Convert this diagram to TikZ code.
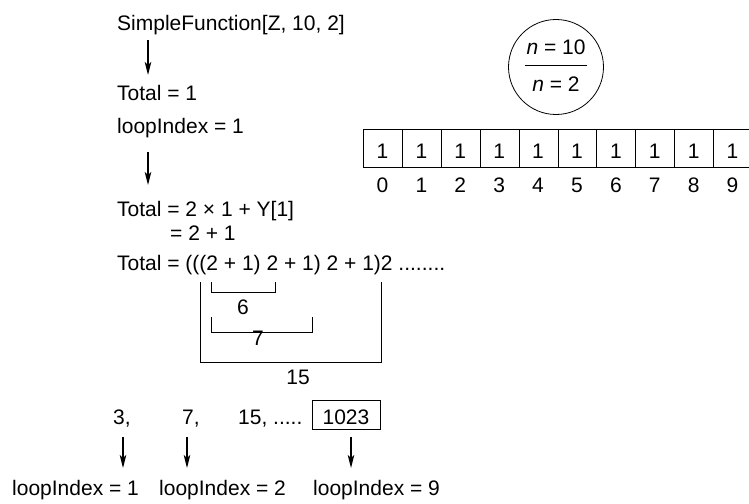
\documentclass[tikz,border=0pt]{standalone}
\usepackage{fontspec}
\setmainfont{Liberation Sans}
\usetikzlibrary{arrows.meta}
\begin{document}
\begin{tikzpicture}[x=1pt,y=-1pt,
  font=\fontsize{21}{25}\selectfont,
  txt/.style={anchor=base west, inner sep=0pt},
  ctxt/.style={anchor=base, inner sep=0pt},
  arr/.style={line width=1.3pt, -{Stealth[length=13pt,width=6.5pt,inset=3pt]}},
  ln/.style={line width=0.8pt},
  cell/.style={draw, line width=0.8pt, minimum width=38.9pt, minimum height=38pt, inner sep=0pt, anchor=north west}]
\useasboundingbox (0,0) rectangle (749,503);
% left column
\node[txt] (sf) at (117,31) {SimpleFunction[Z, 10, 2]};
\node[txt] (t1) at (117,100) {Total = 1};
\node[txt] (l1) at (117,133) {loopIndex = 1};
\node[txt] (t2) at (117,216) {Total = 2 × 1 + Y[1]};
\node[txt] (t3) at (170,240) {= 2 + 1};
\node[txt] (t4) at (117,270) {Total = (((2 + 1) 2 + 1) 2 + 1)2 ........};
\coordinate (a1s) at (148,40); \coordinate (a1e) at (148,75);
\coordinate (a2s) at (148,152); \coordinate (a2e) at (148,185);
\draw[arr] (a1s) -- (a1e);
\draw[arr] (a2s) -- (a2e);
% brackets
\draw[ln] (211,282) -- (211,292) -- (275,292) -- (275,282);
\node[ctxt] (b6) at (243,314) {6};
\draw[ln] (211,317) -- (211,332) -- (312,332) -- (312,317);
\node[ctxt] (b7) at (258,345) {7};
\draw[ln] (200,282) -- (200,362) -- (381,362) -- (381,282);
\node[ctxt] (b15) at (298,384) {15};
% sequence
\node[txt] (s3) at (113,424) {3,};
\node[txt] (s7) at (182,424) {7,};
\node[txt] (s15) at (238,424) {15, .....};
\node[draw, ln, minimum width=68pt, minimum height=29pt, inner sep=0pt] (s1023) at (346,414.5) {};
\node[ctxt] at (346,424) {1023};
\node[txt] (li1) at (12,495) {loopIndex = 1};
\node[txt] (li2) at (159,495) {loopIndex = 2};
\node[txt] (li9) at (313,495) {loopIndex = 9};
\coordinate (b1s) at (123,437); \coordinate (b1e) at (123,468);
\coordinate (b2s) at (187,437); \coordinate (b2e) at (187,468);
\coordinate (b3s) at (351,437); \coordinate (b3e) at (351,468);
\draw[arr] (b1s) -- (b1e);
\draw[arr] (b2s) -- (b2e);
\draw[arr] (b3s) -- (b3e);
% circle
\node[circle, draw, ln, minimum size=95pt, inner sep=0pt] (circ) at (556,67) {};
\draw[ln] (525,65) -- (587,65);
\node[ctxt] (n10) at (556,55) {\textit{n} = 10};
\node[ctxt] (n2) at (556,92) {\textit{n} = 2};
% array
\foreach \i in {0,...,9} {
  \node[cell] (c\i) at (363+38.9*\i,129) {};
  \node[ctxt] at (363+38.9*\i+19.45,158) {1};
  \node[ctxt] (ix\i) at (363+38.9*\i+19.45,192) {\i};
}
\end{tikzpicture}
\end{document}
